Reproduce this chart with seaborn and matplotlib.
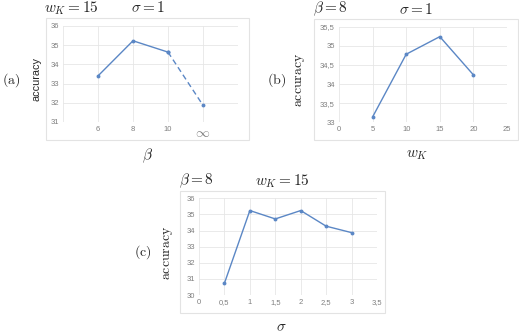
import numpy as np
import pandas as pd
import seaborn as sns
import matplotlib.pyplot as plt
from matplotlib.patches import Rectangle
from matplotlib.ticker import FuncFormatter

# (a) accuracy vs beta (last point = infinity)
beta_pos = [6, 8, 10, 12]
beta_labels = ['6', '8', '10', r'$\infty$']
acc_beta = [33.4, 35.23, 34.64, 31.87]

# (b) accuracy vs w_K
wk = [5, 10, 15, 20]
acc_wk = [33.14, 34.78, 35.24, 34.24]

# (c) accuracy vs sigma
sigma = [0.5, 1, 1.5, 2, 2.5, 3]
acc_sigma = [30.73, 35.24, 34.72, 35.24, 34.27, 33.87]

sns.set_theme(style="white")
plt.rcParams['mathtext.fontset'] = 'cm'
plt.rcParams['font.family'] = ['Liberation Sans', 'DejaVu Sans']

W, H = 519, 335
fig = plt.figure(figsize=(W / 100, H / 100), dpi=100)

line_col = '#5B87C5'
grid_col = '#E6E6E6'
tick_col = '#7F7F7F'


def px(x, y):
    return x / W, 1 - y / H


def make_ax(l, t, r, b):
    ax = fig.add_axes([l / W, 1 - b / H, (r - l) / W, (b - t) / H])
    for s in ax.spines.values():
        s.set_visible(False)
    ax.grid(True, color=grid_col, linewidth=0.6)
    ax.set_axisbelow(True)
    ax.tick_params(length=0, labelsize=5.5, colors=tick_col, pad=3)
    return ax


def chart_box(l, t, r, b):
    x0, y0 = px(l, b)
    fig.patches.append(Rectangle((x0, y0), (r - l) / W, (b - t) / H,
                                 transform=fig.transFigure, fill=False,
                                 edgecolor='#E3E3E3', linewidth=0.8))


comma = FuncFormatter(lambda v, p: f'{v:g}'.replace('.', ','))

# ---------- (a) ----------
chart_box(46, 18, 249, 140)
ax1 = make_ax(63, 26, 238, 122)
df_a = pd.DataFrame({'x': beta_pos, 'y': acc_beta})
sns.lineplot(data=df_a.iloc[:3], x='x', y='y', ax=ax1, color=line_col,
             marker='o', markersize=2.8, markeredgewidth=0, linewidth=1)
sns.lineplot(data=df_a.iloc[2:], x='x', y='y', ax=ax1, color=line_col,
             marker='o', markersize=2.8, markeredgewidth=0, linewidth=1,
             linestyle=(0, (4, 2.5)))
ax1.set_xlim(4, 14)
ax1.set_xticks([4] + beta_pos + [14])
ax1.set_xticklabels([''] + beta_labels + [''])
ax1.get_xticklabels()[4].set_fontsize(10)
ax1.set_ylim(31, 36)
ax1.set_yticks(range(31, 37))
ax1.set_xlabel('')
ax1.set_ylabel('')

fig.text(*px(71, 8), r'$w_K = 15$', fontsize=11, ha='center', va='center')
fig.text(*px(148, 8), r'$\sigma = 1$', fontsize=11, ha='center', va='center')
fig.text(*px(11, 80), r'$\mathrm{(a)}$', fontsize=10, ha='center', va='center')
fig.text(*px(37, 79), 'accuracy', fontsize=7.8, rotation=90, ha='center', va='center',
         color='#262626')
fig.text(*px(147, 156), r'$\beta$', fontsize=11, ha='center', va='center')

# ---------- (b) ----------
chart_box(314, 19, 518, 140)
ax2 = make_ax(339, 26.7, 507, 122.3)
sns.lineplot(x=wk, y=acc_wk, ax=ax2, color=line_col, marker='o',
             markersize=2.8, markeredgewidth=0, linewidth=1)
ax2.set_xlim(0, 25)
ax2.set_xticks(range(0, 26, 5))
ax2.set_ylim(33, 35.5)
ax2.set_yticks(np.arange(33, 35.51, 0.5))
ax2.yaxis.set_major_formatter(comma)

fig.text(*px(330, 9), r'$\beta = 8$', fontsize=11, ha='center', va='center')
fig.text(*px(416, 9), r'$\sigma = 1$', fontsize=11, ha='center', va='center')
fig.text(*px(277, 80), r'$\mathrm{(b)}$', fontsize=10, ha='center', va='center')
fig.text(*px(300, 80), r'$\mathrm{accuracy}$', fontsize=10, rotation=90,
         ha='center', va='center')
fig.text(*px(417, 155), r'$w_K$', fontsize=11, ha='center', va='center')

# ---------- (c) ----------
chart_box(180, 191, 385, 313)
ax3 = make_ax(199, 198.3, 377, 295)
sns.lineplot(x=sigma, y=acc_sigma, ax=ax3, color=line_col, marker='o',
             markersize=2.8, markeredgewidth=0, linewidth=1)
ax3.set_xlim(0, 3.5)
ax3.set_xticks(np.arange(0, 3.51, 0.5))
ax3.xaxis.set_major_formatter(comma)
ax3.set_ylim(30, 36)
ax3.set_yticks(range(30, 37))

fig.text(*px(196, 181), r'$\beta = 8$', fontsize=11, ha='center', va='center')
fig.text(*px(282, 181), r'$w_K = 15$', fontsize=11, ha='center', va='center')
fig.text(*px(143, 252), r'$\mathrm{(c)}$', fontsize=10, ha='center', va='center')
fig.text(*px(168, 253), r'$\mathrm{accuracy}$', fontsize=10, rotation=90,
         ha='center', va='center')
fig.text(*px(281, 327), r'$\sigma$', fontsize=11, ha='center', va='center')

fig.savefig('out.png', dpi=100, facecolor='white')
